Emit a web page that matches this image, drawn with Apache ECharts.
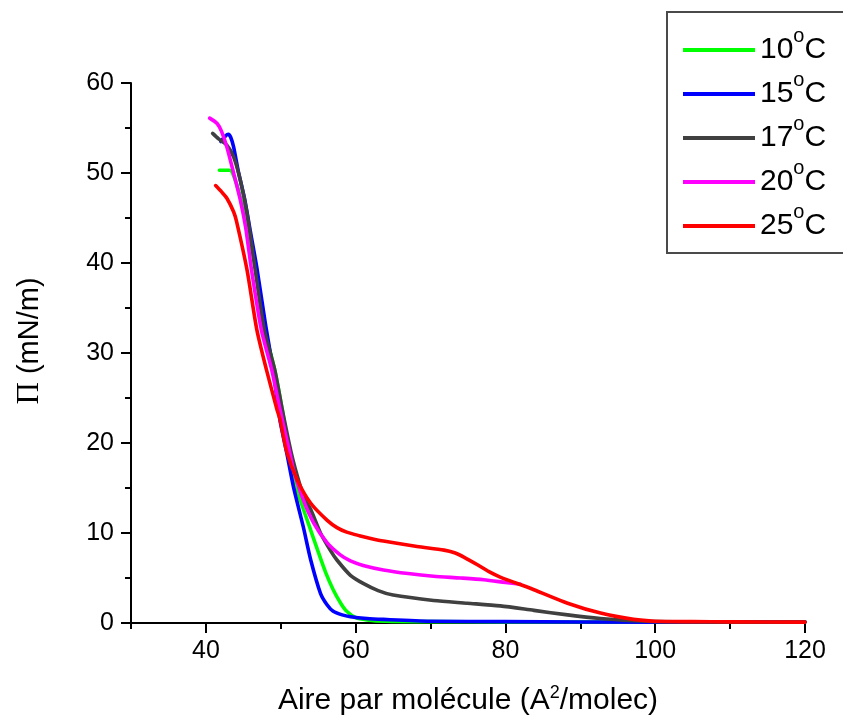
<!DOCTYPE html>
<html>
<head>
<meta charset="utf-8">
<script src="https://cdn.jsdelivr.net/npm/echarts@6/dist/echarts.min.js"></script>
<style>html,body{margin:0;padding:0;background:#fff}#c{width:843px;height:725px}</style>
</head>
<body>
<div id="c"></div>
<script>
var seriesNames = ['10°C', '15°C', '17°C', '20°C', '25°C'];
var seriesColors = ['#00ff00', '#0000ff', '#404040', '#ff00ff', '#ff0000'];
var xTickLabels = [40, 60, 80, 100, 120];

var t10 = [[41.8,50.3],[43.2,50.3],[44.0,49.0],[44.6,47.3],[45.5,44.3],[46.6,39.3],[47.8,32.8],[49.2,28.1],[50.2,23.7],[50.8,20.5],[51.3,17.4],[52.6,13.7],[54.0,10.3],[55.0,7.9],[56.0,5.6],[57.0,3.7],[58.0,2.2],[58.8,1.3],[60.0,0.6],[61.5,0.35],[64,0.2],[70,0.15],[80,0.12],[100,0.1],[120,0.1]];
var t15 = [[42.0,53.5],[42.6,54.1],[43.0,54.3],[43.3,54.0],[43.7,52.9],[44.3,50.3],[45.2,47.0],[45.9,43.7],[46.8,39.5],[47.9,33.5],[49.0,28.0],[49.9,22.5],[50.8,18.9],[51.7,15.1],[53.0,10.7],[54.0,7.0],[55.3,3.3],[56.2,2.0],[57.0,1.3],[58.2,0.9],[59.3,0.7],[61.5,0.5],[63.7,0.4],[70,0.2],[80,0.15],[100,0.1],[120,0.1]];
var t17 = [[40.9,54.4],[41.7,53.8],[42.8,53.1],[43.7,51.8],[44.6,49.2],[45.5,45.5],[46.6,39.2],[47.8,32.6],[49.2,28.1],[50.2,23.7],[51.4,18.9],[52.5,15.5],[53.3,13.6],[54.0,12.6],[55.3,10.0],[56.6,8.1],[57.5,7.0],[59.3,5.3],[61.0,4.4],[63.0,3.6],[65.0,3.1],[70.4,2.5],[74.9,2.2],[79.3,1.9],[83.8,1.4],[88.3,0.9],[92.7,0.5],[97.1,0.25],[100,0.15],[110,0.1],[120,0.1]];
var t20 = [[40.5,56.1],[41.5,55.5],[42.1,54.6],[42.8,52.9],[43.7,50.0],[44.6,47.0],[45.3,44.0],[46.1,39.2],[47.4,32.6],[48.8,28.1],[49.9,23.7],[51.2,18.9],[51.7,17.0],[53.0,13.7],[54.4,11.1],[56.2,8.9],[57.9,7.6],[59.3,6.9],[61.0,6.4],[63.7,5.9],[67.0,5.5],[70.4,5.2],[74.0,5.0],[77.1,4.8],[80.0,4.5],[82.0,4.3]];
var t25 = [[41.3,48.6],[42.1,47.9],[42.8,47.2],[43.7,45.7],[44.1,44.6],[45.5,39.2],[46.8,32.6],[48.1,28.1],[49.5,23.7],[49.9,22.6],[50.8,19.0],[52.2,15.9],[54.0,13.3],[56.2,11.4],[57.5,10.6],[58.8,10.1],[60.5,9.7],[62.0,9.4],[63.7,9.1],[68.2,8.5],[71.8,8.1],[73.2,7.8],[74.5,7.3],[76.2,6.5],[77.8,5.7],[79.3,5.1],[83.8,3.7],[88.3,2.2],[92.7,1.1],[97.1,0.4],[100,0.2],[105,0.15],[110,0.12],[120,0.1]];
var seriesData = [t10, t15, t17, t20, t25];

var FONT = 'Liberation Sans';
var chart = echarts.init(document.getElementById('c'), null, {renderer: 'canvas'});
var series = seriesNames.map(function (n, i) {
  return {
    name: n, type: 'line', data: seriesData[i], xAxisIndex: 0,
    showSymbol: false, symbol: 'none', smooth: 0.25,
    lineStyle: {color: seriesColors[i], width: 3.6, cap: 'round', join: 'round'},
    itemStyle: {color: seriesColors[i]}
  };
});
chart.setOption({
  animation: false,
  backgroundColor: '#fff',
  grid: {left: 131, right: 38, top: 83, bottom: 102, containLabel: false},
  legend: {
    left: 667, top: 12, orient: 'vertical',
    data: seriesNames,
    icon: 'rect', itemWidth: 72, itemHeight: 4, itemGap: 5,
    padding: [14, 60, 12, 16],
    borderColor: '#4a4a4a', borderWidth: 2,
    formatter: function (n) { return n.replace('°C', '{sup|o}C'); },
    textStyle: {
      fontFamily: FONT, fontSize: 30, color: '#000', lineHeight: 30,
      rich: {sup: {fontFamily: FONT, fontSize: 20, color: '#000', verticalAlign: 'top', lineHeight: 30, padding: [-9, 0, 0, 0]}}
    }
  },
  xAxis: [{
    type: 'value', min: 30, max: 120, interval: 10,
    name: 'Aire par molécule (A{sup|2}/molec)', nameLocation: 'middle', nameGap: 61,
    nameTextStyle: {fontFamily: FONT, fontSize: 30, color: '#000',
      rich: {sup: {fontFamily: FONT, fontSize: 18, color: '#000', padding: [0, 0, 15, 0]}}},
    axisLine: {show: true, onZero: false, lineStyle: {color: '#000', width: 2}},
    axisTick: {show: true, length: 10, lineStyle: {color: '#000', width: 2}, customValues: xTickLabels},
    axisLabel: {fontFamily: FONT, fontSize: 25, color: '#000', margin: 16, customValues: xTickLabels},
    splitLine: {show: false}
  }, {
    type: 'value', min: 30, max: 120, interval: 10, position: 'bottom',
    axisLine: {show: false, onZero: false},
    axisTick: {show: true, length: 6, lineStyle: {color: '#000', width: 2}},
    axisLabel: {show: false},
    splitLine: {show: false}
  }],
  yAxis: {
    type: 'value', min: 0, max: 60, interval: 10,
    name: '{pi|Π} (mN/m)', nameLocation: 'middle', nameGap: 86, nameRotate: 90,
    nameTextStyle: {fontFamily: FONT, fontSize: 29, color: '#000', padding: [0, 0, 0, 24],
      rich: {pi: {fontFamily: 'Liberation Serif', fontSize: 31, color: '#000'}}},
    axisLine: {show: true, onZero: false, lineStyle: {color: '#000', width: 2}},
    axisTick: {show: true, length: 10, lineStyle: {color: '#000', width: 2}},
    minorTick: {show: true, splitNumber: 2, length: 6, lineStyle: {color: '#000', width: 2}},
    axisLabel: {fontFamily: FONT, fontSize: 25, color: '#000', margin: 17},
    splitLine: {show: false}
  },
  series: series
});
</script>
</body>
</html>
